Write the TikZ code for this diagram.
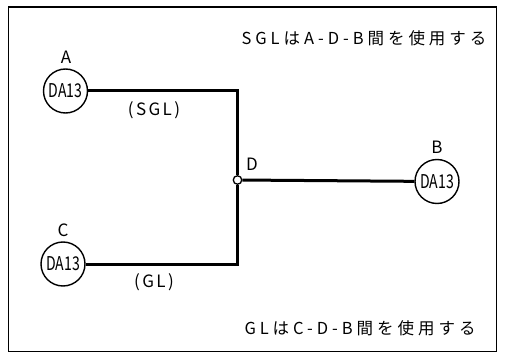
\documentclass[tikz,border=0pt]{standalone}
\usepackage{fontspec}
\setmainfont{Noto Sans CJK JP}
\newfontfamily\spaced[LetterSpace=24]{Noto Sans CJK JP}
\newfontfamily\spacedb[LetterSpace=14]{Noto Sans CJK JP}
\begin{document}
\begin{tikzpicture}[x=1pt,y=-1pt,
  dev/.style={circle,draw,line width=1.4pt,minimum size=44pt,inner sep=0pt,
    font=\fontsize{19}{19}\selectfont},
  lbl/.style={font=\fontsize{17}{17}\selectfont,inner sep=0pt},
  wire/.style={line width=3pt,line join=miter},
  note/.style={font=\spaced\fontsize{16.5}{17}\selectfont,inner sep=0pt},
  wlbl/.style={font=\spacedb\fontsize{17}{17}\selectfont,inner sep=0pt}]
\useasboundingbox (0,0) rectangle (515,353);
\draw[line width=1.1pt] (8.5,7) rectangle (496.5,351.5);
% devices
\node[dev] (A) at (65.5,91) {\scalebox{0.74}[1]{DA13}};
\node[dev] (C) at (63,264) {\scalebox{0.74}[1]{DA13}};
\node[dev] (B) at (437,181.5) {\scalebox{0.74}[1]{DA13}};
\node[circle,draw,fill=white,line width=1.3pt,minimum size=8.5pt,inner sep=0pt] (D) at (237.5,180) {};
% labels
\node[lbl] (la) at (66,57) {A};
\node[lbl] (lc) at (63,230) {C};
\node[lbl] (lb) at (437,147) {B};
\node[lbl] (ld) at (252,164.5) {D};
% wires
\draw[wire] (A) -- (A -| D) -- (D);
\draw[wire] (C) -- (C -| D) -- (D);
\draw[wire] (D) -- (B);
% wire labels
\node[wlbl] (sgl) at (154,110) {(SGL)};
\node[wlbl] (gl) at (154,282) {(GL)};
% notes
\node[note] (t1) at (364,38) {SGLはA-D-B間を使用する};
\node[note] (t2) at (360,328) {GLはC-D-B間を使用する};
\end{tikzpicture}
\end{document}
